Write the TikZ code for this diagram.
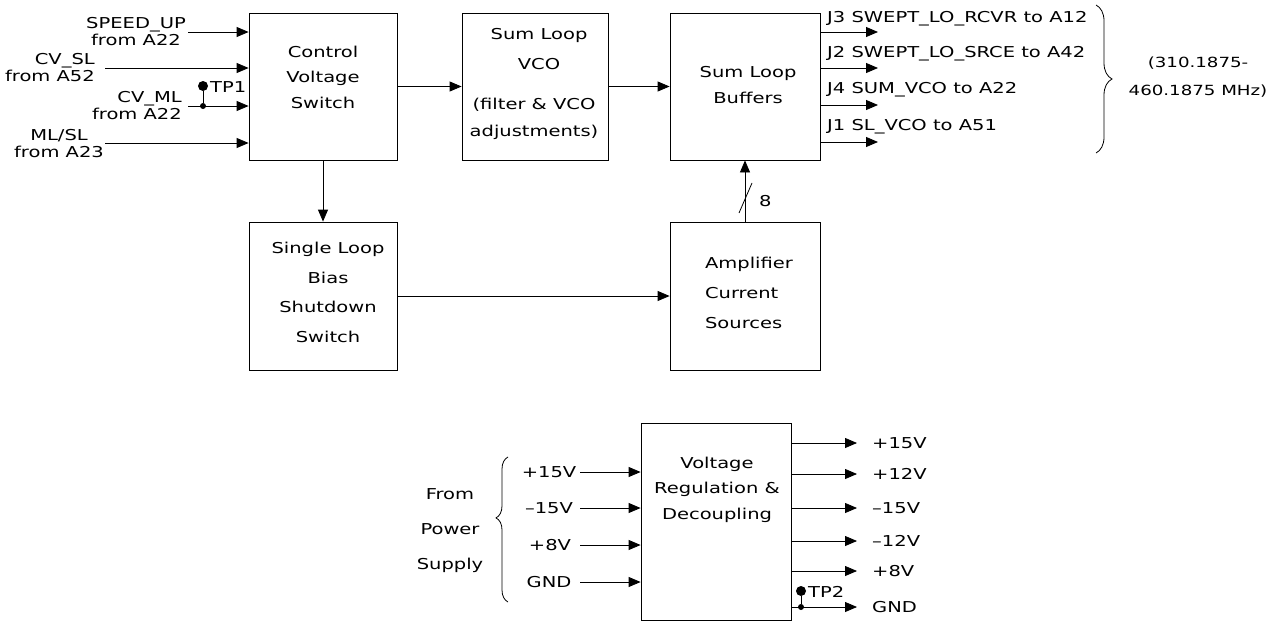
\documentclass[tikz,border=0pt]{standalone}
\usepackage{fontspec}
\setmainfont[FakeStretch=1.3]{DejaVu Sans}
\usetikzlibrary{arrows.meta,decorations.pathreplacing,calc}
\tikzset{
  blk/.style={draw, line width=0.8pt, inner sep=0pt},
  txt/.style={font=\fontsize{15pt}{17pt}\selectfont, inner sep=0pt},
  ls/.style={font=\fontsize{15pt}{#1pt}\selectfont},
  arr/.style={line width=0.8pt, -{Triangle[length=12pt,width=10pt]}},
  wire/.style={line width=0.8pt},
  tp/.style={circle, fill, inner sep=0pt, minimum size=10pt},
  jn/.style={circle, fill, inner sep=0pt, minimum size=6pt},
  bracedec/.style={line width=0.8pt, decorate, decoration={brace, amplitude=#1}},
}
\begin{document}
\begin{tikzpicture}[x=1pt,y=-1pt]
\useasboundingbox (0,0) rectangle (1276,632);
\fill[white] (0,0) rectangle (1276,632);

% blocks
\node[blk, minimum width=148pt, minimum height=147pt] (ctrl) at (323,86.5) {};
\node[blk, minimum width=146pt, minimum height=147pt] (vco) at (535,86.5) {};
\node[blk, minimum width=150pt, minimum height=147pt] (buf) at (745,86.5) {};
\node[blk, minimum width=148pt, minimum height=148pt] (slb) at (323,296) {};
\node[blk, minimum width=150pt, minimum height=148pt] (amp) at (745,296) {};
\node[blk, minimum width=150pt, minimum height=197pt] (vrd) at (716,521.5) {};

% block texts
\node[txt, ls=25.5, align=center] (tctrl) at (323,77) {Control\\Voltage\\Switch};
\node[txt, ls=30, align=center] (tvco1) at (539,49) {Sum Loop\\VCO};
\node[txt, ls=27, align=center] (tvco2) at (534,118.5) {(filter \& VCO\\adjustments)};
\node[txt, ls=26, align=center] (tbuf) at (748,85) {Sum Loop\\Buffers};
\node[txt, ls=29.5, align=center] (tslb) at (328,292.5) {Single Loop\\Bias\\Shutdown\\Switch};
\node[txt, ls=30, align=left] (tamp) at (749,293) {Amplifier\\Current\\Sources};
\node[txt, ls=25.5, align=center] (tvrd) at (717,489.5) {Voltage\\Regulation \&\\Decoupling};

% main connectors
\draw[arr] (ctrl) -- (vco);
\draw[arr] (vco) -- (buf);
\draw[arr] (ctrl) -- (slb);
\draw[arr] (slb) -- (amp);
\draw[arr] (amp) -- (buf);
\draw[wire] (739,213) -- (752,183);
\node[txt, anchor=base west] (bus8) at (759,206) {8};

% control inputs
\coordinate (i1) at (188,32);
\coordinate (i2) at (105,68);
\coordinate (i3) at (188,106);
\coordinate (i4) at (105,143);
\draw[arr] (i1) -- (i1 -| ctrl.west);
\draw[arr] (i2) -- (i2 -| ctrl.west);
\draw[arr] (i3) -- (i3 -| ctrl.west);
\draw[arr] (i4) -- (i4 -| ctrl.west);
\node[txt, align=center] (l1) at (136,31.5) {SPEED\_UP\\from A22};
\node[txt, align=right, anchor=east] (l2) at (95,67.5) {CV\_SL\\from A52};
\node[txt, align=right, anchor=east] (l3) at (182,106) {CV\_ML\\from A22};
\node[txt, align=center] (l4) at (59,144) {ML/SL\\from A23};

% TP1
\node[tp] (tp1) at (203,86) {};
\node[jn] (j1) at (203,106) {};
\draw[wire] (tp1) -- (j1);
\node[txt, anchor=west] (ltp1) at (210,87) {TP1};

% buffer outputs
\coordinate (o1) at (878,32);
\coordinate (o2) at (878,68);
\coordinate (o3) at (878,105);
\coordinate (o4) at (878,142);
\draw[arr] (o1 -| buf.east) -- (o1);
\draw[arr] (o2 -| buf.east) -- (o2);
\draw[arr] (o3 -| buf.east) -- (o3);
\draw[arr] (o4 -| buf.east) -- (o4);
\node[txt, anchor=base west] (lo1) at (827,22.5) {J3 SWEPT\_LO\_RCVR to A12};
\node[txt, anchor=base west] (lo2) at (827,57.5) {J2 SWEPT\_LO\_SRCE to A42};
\node[txt, anchor=base west] (lo3) at (827,93.5) {J4 SUM\_VCO to A22};
\node[txt, anchor=base west] (lo4) at (827,130.5) {J1 SL\_VCO to A51};

% frequency brace
\draw[bracedec=16pt] (1096,5) -- (1096,153);
\node[txt, font=\fontsize{14pt}{28pt}\selectfont, align=center] (freq) at (1198,77) {(310.1875-\\460.1875 MHz)};

% power inputs
\coordinate (v1) at (580,472);
\coordinate (v2) at (580,508);
\coordinate (v3) at (580,545);
\coordinate (v4) at (580,582);
\draw[arr] (v1) -- (v1 -| vrd.west);
\draw[arr] (v2) -- (v2 -| vrd.west);
\draw[arr] (v3) -- (v3 -| vrd.west);
\draw[arr] (v4) -- (v4 -| vrd.west);
\node[txt, anchor=base] (lv1) at (549,477.5) {+15V};
\node[txt, anchor=base] (lv2) at (549,513.5) {–15V};
\node[txt, anchor=base] (lv3) at (550,550.5) {+8V};
\node[txt, anchor=base] (lv4) at (549,587.5) {GND};
\draw[bracedec=12pt, decoration={aspect=0.58}] (508,602) -- (508,457);
\node[txt, ls=35, align=center] (fps) at (450,531) {From\\Power\\Supply};

% power outputs
\coordinate (w1) at (857,443);
\coordinate (w2) at (857,474);
\coordinate (w3) at (857,508);
\coordinate (w4) at (857,541);
\coordinate (w5) at (857,571);
\coordinate (w6) at (857,607);
\draw[arr] (w1 -| vrd.east) -- (w1);
\draw[arr] (w2 -| vrd.east) -- (w2);
\draw[arr] (w3 -| vrd.east) -- (w3);
\draw[arr] (w4 -| vrd.east) -- (w4);
\draw[arr] (w5 -| vrd.east) -- (w5);
\draw[arr] (w6 -| vrd.east) -- (w6);
\node[txt, anchor=base west] (lw1) at (872,448.5) {+15V};
\node[txt, anchor=base west] (lw2) at (872,479.5) {+12V};
\node[txt, anchor=base west] (lw3) at (872,513.5) {–15V};
\node[txt, anchor=base west] (lw4) at (872,546.5) {–12V};
\node[txt, anchor=base west] (lw5) at (872,576.5) {+8V};
\node[txt, anchor=base west] (lw6) at (872,612.5) {GND};

% TP2
\node[tp] (tp2) at (801,591) {};
\node[jn] (j2) at (801,607) {};
\draw[wire] (tp2) -- (j2);
\node[txt, anchor=west] (ltp2) at (808,592) {TP2};
\end{tikzpicture}
\end{document}
